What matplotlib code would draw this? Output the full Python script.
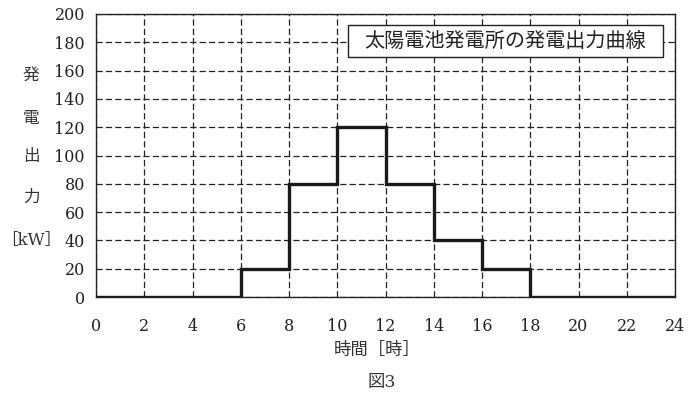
import matplotlib
matplotlib.use("Agg")
import matplotlib.pyplot as plt
from matplotlib.patches import Rectangle

plt.rcParams['font.family'] = ['Noto Sans CJK JP', 'DejaVu Sans']

# data
edges = [0, 6, 8, 10, 12, 14, 16, 18, 24]
power_kw = [0, 20, 80, 120, 80, 40, 20, 0]
x_ticks = list(range(0, 25, 2))
y_ticks = list(range(0, 201, 20))
legend_text = "太陽電池発電所の発電出力曲線"
xlabel = "時間［時］"
ylabel_chars = ["発", "電", "出", "力", "［kW］"]
caption = "図3"

SERIF = ['DejaVu Serif', 'Noto Sans CJK JP']

W, H = 693, 395
fig = plt.figure(figsize=(W / 100, H / 100), dpi=100)
ax = fig.add_axes([96 / W, 1 - 297 / H, 579 / W, 283 / H])

ax.stairs(power_kw, edges, color='#1a1a1a', lw=2.4, zorder=3)

ax.set_xlim(0, 24)
ax.set_ylim(0, 200)
ax.set_xticks(x_ticks)
ax.set_yticks(y_ticks)
ax.set_xticklabels([str(v) for v in x_ticks], fontfamily=SERIF, fontsize=11.5)
ax.set_yticklabels([str(v) for v in y_ticks], fontfamily=SERIF, fontsize=11.5)
ax.tick_params(length=0, pad=8, colors='#222222')
ax.tick_params(axis='x', pad=15)
ax.grid(True, color='#222222', lw=0.9, linestyle=(0, (5, 2.5)))
for s in ax.spines.values():
    s.set_color('#222222')
    s.set_linewidth(1.0)

# legend box
fig.add_artist(Rectangle((348 / W, 1 - 57 / H), 315 / W, 32 / H,
                         transform=fig.transFigure, fc='white', ec='#222222',
                         lw=1.0, zorder=5))
fig.text(505 / W, 1 - 41 / H, legend_text, ha='center', va='center',
         fontsize=14.5, color='#222222', zorder=6)

# y label stacked
ys = [75, 118, 157, 197, 241]
for ch, y in zip(ylabel_chars, ys):
    fig.text(31 / W, 1 - y / H, ch, ha='center', va='center', fontsize=12,
             color='#333333', fontfamily=SERIF)

fig.text(377 / W, 1 - 350 / H, xlabel, ha='center', va='center', fontsize=12.5,
         color='#333333')
fig.text(382 / W, 1 - 382 / H, caption, ha='center', va='center', fontsize=12.5,
         color='#333333', fontfamily=SERIF)

fig.savefig('out.png', dpi=100, facecolor='white')
